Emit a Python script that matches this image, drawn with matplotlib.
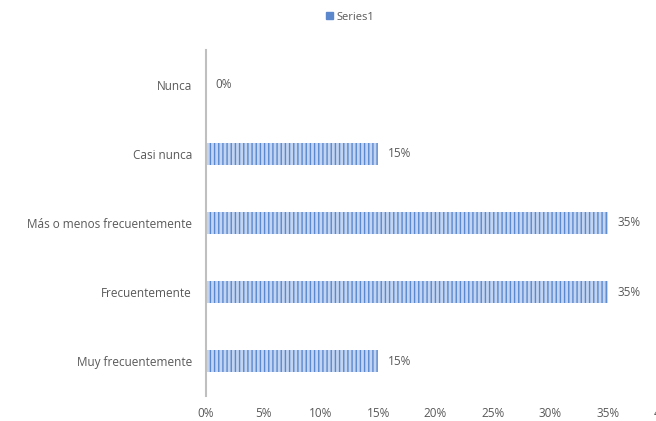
import matplotlib.pyplot as plt
from matplotlib.patches import Patch

categories = ["Muy frecuentemente", "Frecuentemente", "Más o menos frecuentemente",
              "Casi nunca", "Nunca"]
values = [15, 35, 35, 15, 0]
xticks = [0, 5, 10, 15, 20, 25, 30, 35, 40]

plt.rcParams['font.family'] = ['Open Sans', 'DejaVu Sans']
plt.rcParams['hatch.linewidth'] = 1.0
text_col = "#595959"

fig = plt.figure(figsize=(6.56, 4.21), dpi=100)
# plot area runs a little past the right edge, so the last tick is clipped
ax = fig.add_axes([206 / 656, 1 - 396 / 421, 459 / 656, 346 / 421])

ypos = range(len(categories))
ax.barh(ypos, values, height=0.32, color="#c3d4f0", edgecolor="#5a89d0",
        hatch="||||", linewidth=0)

for y, v in zip(ypos, values):
    ax.text(v + 0.85, y, f"{v}%", va="center", ha="left", fontsize=8.5, color=text_col)

ax.set_xlim(0, 40)
ax.set_ylim(-0.5, len(categories) - 0.5)
ax.set_xticks(xticks)
ax.set_xticklabels([f"{t}%" for t in xticks])
ax.set_yticks(list(ypos))
ax.set_yticklabels(categories)
ax.tick_params(axis="both", length=0, labelsize=8.5, labelcolor=text_col)
ax.tick_params(axis="y", pad=10)
ax.tick_params(axis="x", pad=8)

for side in ["top", "right", "bottom"]:
    ax.spines[side].set_visible(False)
ax.spines["left"].set_color("#bfbfbf")
ax.spines["left"].set_linewidth(1.5)

handle = Patch(facecolor="#5b87cc", edgecolor="#5b87cc", label="Series1")
fig.legend(handles=[handle], loc="center", bbox_to_anchor=(350 / 656, 1 - 17 / 421),
           frameon=False, fontsize=8, handlelength=0.6, handleheight=0.6,
           handletextpad=0.3, labelcolor=text_col)

fig.savefig("out.png", dpi=100)
